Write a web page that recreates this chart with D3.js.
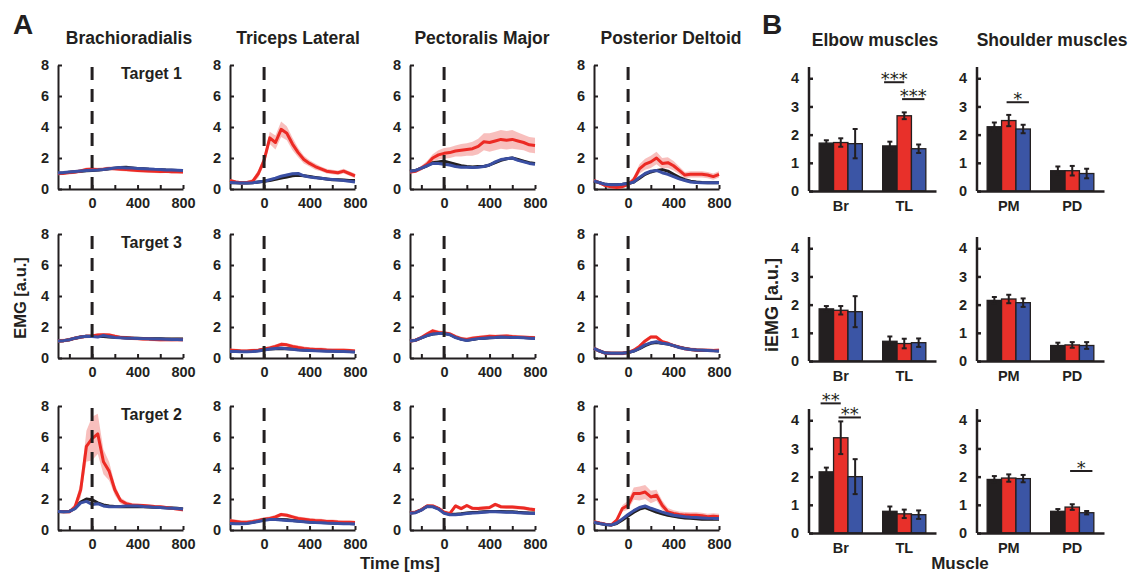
<!DOCTYPE html>
<html>
<head>
<meta charset="utf-8">
<script src="https://cdn.jsdelivr.net/npm/d3@7"></script>
<style>
  body { margin: 0; background: #fff; }
  text { font-family: "Liberation Sans", Arial, sans-serif; font-weight: bold; fill: #231f20; }
</style>
</head>
<body>
<svg id="fig" width="1138" height="575"></svg>
<script>
// ---- data: EMG time courses (panel A), sampled every 50 ms ----
const TIME = [-300, -250, -200, -150, -100, -50, 0, 50, 100, 150, 200, 250, 300, 350, 400, 450, 500, 550, 600, 650, 700, 750, 800];
const MUSCLE_NAMES = ["Brachioradialis", "Triceps Lateral", "Pectoralis Major", "Posterior Deltoid"];
const TARGET_NAMES = ["Target 1", "Target 3", "Target 2"];
const X_TICKS = [-200, 0, 200, 400, 600, 800];
const X_LABELS = [0, 400, 800];
const Y_TICKS = [0, 2, 4, 6, 8];

// Target 1
const brT1Black = [1.02, 1.04, 1.08, 1.12, 1.15, 1.18, 1.20, 1.22, 1.25, 1.30, 1.34, 1.38, 1.40, 1.36, 1.32, 1.30, 1.27, 1.26, 1.24, 1.22, 1.21, 1.19, 1.17];
const brT1Red   = [1.00, 1.02, 1.06, 1.10, 1.16, 1.26, 1.28, 1.25, 1.28, 1.33, 1.31, 1.28, 1.25, 1.22, 1.20, 1.18, 1.16, 1.15, 1.13, 1.15, 1.12, 1.11, 1.10];
const brT1Blue  = [1.03, 1.06, 1.10, 1.13, 1.16, 1.19, 1.21, 1.23, 1.26, 1.31, 1.36, 1.38, 1.36, 1.35, 1.33, 1.31, 1.29, 1.27, 1.26, 1.23, 1.22, 1.21, 1.19];

const tlT1Black = [0.40, 0.40, 0.38, 0.38, 0.40, 0.45, 0.50, 0.55, 0.62, 0.70, 0.78, 0.85, 0.88, 0.85, 0.80, 0.75, 0.70, 0.65, 0.60, 0.60, 0.58, 0.55, 0.55];
const tlT1Red   = [0.55, 0.45, 0.40, 0.42, 0.50, 1.00, 1.85, 3.30, 3.00, 3.85, 3.60, 2.90, 2.35, 1.90, 1.65, 1.45, 1.30, 1.15, 1.10, 1.05, 1.15, 1.00, 0.85];
const tlT1Blue  = [0.42, 0.40, 0.38, 0.38, 0.40, 0.45, 0.50, 0.60, 0.70, 0.82, 0.90, 0.98, 1.00, 0.85, 0.78, 0.72, 0.70, 0.65, 0.62, 0.58, 0.55, 0.50, 0.45];
const tlT1RedSE = [0.10, 0.10, 0.10, 0.10, 0.15, 0.25, 0.30, 0.40, 0.45, 0.50, 0.45, 0.40, 0.30, 0.25, 0.20, 0.20, 0.15, 0.15, 0.15, 0.15, 0.15, 0.15, 0.15];

const pmT1Black = [1.15, 1.20, 1.35, 1.50, 1.70, 1.75, 1.80, 1.70, 1.60, 1.50, 1.45, 1.42, 1.45, 1.45, 1.55, 1.70, 1.85, 1.95, 2.00, 1.90, 1.80, 1.70, 1.65];
const pmT1Red   = [1.10, 1.15, 1.35, 1.60, 2.00, 2.20, 2.30, 2.35, 2.45, 2.50, 2.55, 2.60, 2.75, 3.05, 3.00, 3.10, 3.20, 3.15, 3.20, 3.10, 3.00, 2.85, 2.80];
const pmT1Blue  = [1.15, 1.20, 1.35, 1.50, 1.65, 1.65, 1.60, 1.55, 1.45, 1.40, 1.40, 1.38, 1.40, 1.45, 1.55, 1.75, 1.90, 1.95, 2.00, 1.85, 1.75, 1.65, 1.60];
const pmT1RedSE = [0.10, 0.12, 0.15, 0.20, 0.25, 0.30, 0.35, 0.35, 0.35, 0.40, 0.40, 0.45, 0.50, 0.55, 0.60, 0.60, 0.60, 0.60, 0.60, 0.55, 0.50, 0.50, 0.50];

const pdT1Black = [0.50, 0.40, 0.30, 0.28, 0.28, 0.30, 0.35, 0.45, 0.70, 0.95, 1.10, 1.20, 1.25, 1.15, 0.95, 0.75, 0.60, 0.50, 0.45, 0.42, 0.40, 0.40, 0.40];
const pdT1Red   = [0.55, 0.40, 0.22, 0.15, 0.10, 0.15, 0.30, 0.60, 1.30, 1.60, 1.75, 2.00, 1.65, 1.70, 1.50, 1.20, 0.90, 0.95, 0.95, 0.95, 0.90, 0.80, 0.95];
const pdT1Blue  = [0.52, 0.40, 0.30, 0.28, 0.28, 0.30, 0.35, 0.45, 0.75, 1.00, 1.15, 1.20, 1.05, 0.95, 0.80, 0.65, 0.55, 0.45, 0.42, 0.40, 0.40, 0.40, 0.40];
const pdT1RedSE = [0.10, 0.10, 0.10, 0.10, 0.10, 0.10, 0.12, 0.20, 0.30, 0.35, 0.40, 0.40, 0.35, 0.35, 0.30, 0.25, 0.20, 0.20, 0.20, 0.20, 0.20, 0.20, 0.20];

// Target 3
const brT3Black = [1.10, 1.12, 1.18, 1.28, 1.36, 1.40, 1.40, 1.38, 1.38, 1.36, 1.34, 1.32, 1.30, 1.28, 1.27, 1.26, 1.25, 1.25, 1.24, 1.23, 1.23, 1.22, 1.22];
const brT3Red   = [1.10, 1.12, 1.18, 1.28, 1.35, 1.40, 1.42, 1.48, 1.50, 1.48, 1.40, 1.33, 1.30, 1.28, 1.25, 1.22, 1.22, 1.20, 1.18, 1.20, 1.18, 1.20, 1.18];
const brT3Blue  = [1.10, 1.12, 1.18, 1.28, 1.36, 1.40, 1.38, 1.35, 1.45, 1.38, 1.33, 1.30, 1.28, 1.27, 1.26, 1.25, 1.24, 1.23, 1.22, 1.21, 1.20, 1.20, 1.18];

const tlT3Black = [0.45, 0.45, 0.42, 0.42, 0.45, 0.48, 0.55, 0.58, 0.60, 0.62, 0.60, 0.58, 0.55, 0.52, 0.50, 0.48, 0.48, 0.46, 0.45, 0.45, 0.45, 0.42, 0.40];
const tlT3Red   = [0.50, 0.48, 0.45, 0.45, 0.48, 0.50, 0.58, 0.65, 0.75, 0.88, 0.85, 0.75, 0.68, 0.62, 0.58, 0.55, 0.55, 0.52, 0.50, 0.50, 0.50, 0.48, 0.45];
const tlT3Blue  = [0.42, 0.42, 0.40, 0.40, 0.42, 0.45, 0.52, 0.58, 0.62, 0.65, 0.60, 0.56, 0.52, 0.50, 0.48, 0.46, 0.45, 0.44, 0.43, 0.42, 0.42, 0.40, 0.38];

const pmT3Black = [1.10, 1.15, 1.30, 1.45, 1.55, 1.58, 1.60, 1.52, 1.35, 1.22, 1.15, 1.20, 1.25, 1.28, 1.30, 1.32, 1.35, 1.35, 1.33, 1.32, 1.32, 1.30, 1.28];
const pmT3Red   = [1.10, 1.15, 1.32, 1.55, 1.75, 1.65, 1.62, 1.55, 1.38, 1.25, 1.20, 1.28, 1.32, 1.36, 1.40, 1.38, 1.40, 1.42, 1.38, 1.36, 1.34, 1.32, 1.30];
const pmT3Blue  = [1.10, 1.15, 1.30, 1.45, 1.55, 1.58, 1.58, 1.50, 1.32, 1.20, 1.13, 1.20, 1.25, 1.28, 1.30, 1.32, 1.35, 1.34, 1.32, 1.32, 1.30, 1.28, 1.26];

const pdT3Black = [0.62, 0.45, 0.32, 0.30, 0.30, 0.30, 0.35, 0.45, 0.60, 0.80, 0.95, 1.00, 0.95, 0.90, 0.80, 0.70, 0.62, 0.55, 0.52, 0.50, 0.48, 0.48, 0.45];
const pdT3Red   = [0.62, 0.45, 0.32, 0.30, 0.30, 0.30, 0.35, 0.50, 0.75, 1.10, 1.35, 1.35, 1.05, 0.95, 0.80, 0.70, 0.60, 0.55, 0.52, 0.50, 0.50, 0.48, 0.50];
const pdT3Blue  = [0.62, 0.45, 0.32, 0.30, 0.30, 0.30, 0.35, 0.45, 0.62, 0.85, 0.98, 1.05, 0.95, 0.90, 0.80, 0.68, 0.60, 0.55, 0.52, 0.50, 0.48, 0.46, 0.45];

// Target 2
const brT2Black = [1.20, 1.18, 1.20, 1.40, 1.80, 2.00, 1.95, 1.75, 1.62, 1.55, 1.52, 1.50, 1.50, 1.50, 1.52, 1.50, 1.48, 1.46, 1.45, 1.43, 1.42, 1.40, 1.35];
const brT2Red   = [1.20, 1.18, 1.17, 1.50, 2.60, 5.40, 5.90, 6.20, 4.40, 3.80, 2.60, 1.90, 1.70, 1.62, 1.60, 1.58, 1.55, 1.52, 1.50, 1.45, 1.40, 1.35, 1.30];
const brT2Blue  = [1.20, 1.18, 1.20, 1.38, 1.75, 1.85, 1.65, 1.70, 1.55, 1.50, 1.50, 1.52, 1.55, 1.55, 1.55, 1.52, 1.50, 1.46, 1.45, 1.42, 1.40, 1.38, 1.35];
const brT2RedSE = [0.08, 0.08, 0.10, 0.20, 0.50, 1.00, 1.40, 1.30, 0.80, 0.60, 0.35, 0.20, 0.15, 0.12, 0.10, 0.10, 0.10, 0.10, 0.10, 0.10, 0.10, 0.10, 0.10];

const tlT2Black = [0.45, 0.42, 0.42, 0.45, 0.50, 0.58, 0.68, 0.70, 0.70, 0.68, 0.66, 0.62, 0.58, 0.55, 0.52, 0.50, 0.48, 0.46, 0.45, 0.43, 0.42, 0.42, 0.40];
const tlT2Red   = [0.60, 0.55, 0.50, 0.50, 0.55, 0.62, 0.70, 0.75, 0.85, 1.00, 0.95, 0.85, 0.75, 0.70, 0.65, 0.62, 0.60, 0.55, 0.55, 0.52, 0.50, 0.50, 0.48];
const tlT2Blue  = [0.42, 0.40, 0.40, 0.42, 0.48, 0.55, 0.62, 0.68, 0.68, 0.65, 0.62, 0.60, 0.56, 0.53, 0.50, 0.48, 0.47, 0.45, 0.44, 0.42, 0.40, 0.40, 0.38];

const pmT2Black = [1.10, 1.15, 1.30, 1.54, 1.52, 1.38, 1.12, 1.02, 1.02, 1.05, 1.09, 1.13, 1.15, 1.18, 1.20, 1.20, 1.19, 1.18, 1.17, 1.14, 1.12, 1.10, 1.09];
const pmT2Red   = [1.10, 1.15, 1.30, 1.55, 1.55, 1.40, 1.15, 1.05, 1.55, 1.38, 1.58, 1.40, 1.38, 1.42, 1.45, 1.65, 1.50, 1.48, 1.48, 1.45, 1.42, 1.35, 1.30];
const pmT2Blue  = [1.08, 1.12, 1.28, 1.52, 1.50, 1.35, 1.08, 0.98, 0.98, 1.02, 1.06, 1.10, 1.12, 1.15, 1.17, 1.17, 1.16, 1.15, 1.15, 1.12, 1.10, 1.08, 1.07];

const pdT2Black = [0.50, 0.42, 0.36, 0.32, 0.42, 0.65, 0.90, 1.15, 1.35, 1.45, 1.30, 1.15, 1.05, 0.95, 0.88, 0.82, 0.78, 0.75, 0.72, 0.70, 0.70, 0.70, 0.70];
const pdT2Red   = [0.53, 0.45, 0.38, 0.32, 0.64, 1.39, 1.60, 2.35, 2.35, 2.45, 2.13, 2.24, 1.60, 1.17, 1.07, 1.00, 0.96, 0.95, 0.95, 0.92, 0.85, 0.88, 0.85];
const pdT2Blue  = [0.50, 0.42, 0.36, 0.32, 0.45, 0.72, 1.00, 1.25, 1.45, 1.55, 1.40, 1.28, 1.15, 1.05, 0.95, 0.90, 0.85, 0.82, 0.80, 0.78, 0.76, 0.75, 0.75];
const pdT2RedSE = [0.08, 0.08, 0.08, 0.08, 0.12, 0.20, 0.30, 0.40, 0.45, 0.45, 0.40, 0.35, 0.30, 0.25, 0.20, 0.20, 0.20, 0.20, 0.20, 0.20, 0.20, 0.20, 0.20];

const RED_SE_DEFAULT = 0.12;
const OTHER_SE = 0.08;

// ---- data: integrated EMG (panel B), order Br, TL, PM, PD ; conditions black/red/blue ----
const BAR_MUSCLES = ["Br", "TL", "PM", "PD"];
const BAR_GROUPS = [["Br", "TL"], ["PM", "PD"]];
const BAR_GROUP_TITLES = ["Elbow muscles", "Shoulder muscles"];
const B_TICKS = [0, 1, 2, 3, 4];

const iemgT1Mean = [[1.70, 1.72, 1.68], [1.60, 2.67, 1.50], [2.28, 2.50, 2.20], [0.72, 0.72, 0.62]];
const iemgT1Err  = [[0.10, 0.15, 0.52], [0.15, 0.12, 0.15], [0.15, 0.20, 0.15], [0.15, 0.17, 0.17]];
const iemgT3Mean = [[1.85, 1.80, 1.75], [0.70, 0.62, 0.65], [2.15, 2.20, 2.07], [0.55, 0.57, 0.55]];
const iemgT3Err  = [[0.10, 0.15, 0.55], [0.17, 0.17, 0.15], [0.12, 0.15, 0.15], [0.10, 0.10, 0.12]];
const iemgT2Mean = [[2.17, 3.38, 2.00], [0.77, 0.68, 0.65], [1.90, 1.95, 1.93], [0.77, 0.92, 0.72]];
const iemgT2Err  = [[0.15, 0.58, 0.62], [0.17, 0.15, 0.15], [0.12, 0.13, 0.13], [0.08, 0.10, 0.06]];

// significance markers: muscle, pair of conditions, bar height level
const sigT1 = [
  { muscle: "TL", from: 0, to: 1, level: 3.86, label: "***" },
  { muscle: "TL", from: 1, to: 2, level: 3.26, label: "***" },
  { muscle: "PM", from: 1, to: 2, level: 3.15, label: "*" }
];
const sigT3 = [];
const sigT2 = [
  { muscle: "Br", from: 0, to: 1, level: 4.60, label: "**" },
  { muscle: "Br", from: 1, to: 2, level: 4.10, label: "**" },
  { muscle: "PD", from: 1, to: 2, level: 2.20, label: "*" }
];

// ---- styling / layout ----
const INK = "#231f20";
const LINE_COLORS = { black: "#231f20", red: "#ec2a24", blue: "#3a4fa3" };
const BAND_COLORS = { black: "#9a9a9a", red: "#f59c9a", blue: "#9ea9dc" };
const BAR_COLORS = ["#231f20", "#e8302a", "#3b55a5"];

const svg = d3.select("#fig");

// Panel A layout
const colX = [58, 230, 410, 594], plotW = 125;
const rowY = [65, 234, 406], plotH = 124;
const titleX = [129, 298, 482, 671];

const x = d3.scaleLinear().domain([-300, 800]).range([0, plotW]);
const y = d3.scaleLinear().domain([0, 8]).range([plotH, 0]);

const emgRows = [
  [[brT1Black, brT1Red, brT1Blue, null], [tlT1Black, tlT1Red, tlT1Blue, tlT1RedSE],
   [pmT1Black, pmT1Red, pmT1Blue, pmT1RedSE], [pdT1Black, pdT1Red, pdT1Blue, pdT1RedSE]],
  [[brT3Black, brT3Red, brT3Blue, null], [tlT3Black, tlT3Red, tlT3Blue, null],
   [pmT3Black, pmT3Red, pmT3Blue, null], [pdT3Black, pdT3Red, pdT3Blue, null]],
  [[brT2Black, brT2Red, brT2Blue, brT2RedSE], [tlT2Black, tlT2Red, tlT2Blue, null],
   [pmT2Black, pmT2Red, pmT2Blue, null], [pdT2Black, pdT2Red, pdT2Blue, pdT2RedSE]]
];

svg.append("text").attr("x", 13).attr("y", 34).style("font-size", "28px").text("A");
svg.append("text").attr("x", 762).attr("y", 34).style("font-size", "28px").text("B");

MUSCLE_NAMES.forEach((m, c) => {
  svg.append("text").attr("x", titleX[c]).attr("y", 44)
    .attr("text-anchor", "middle").style("font-size", "17.5px").text(m);
});

const line = vals => d3.line().x((d, i) => x(TIME[i])).y(d => y(d))(vals);
const band = (vals, se) => d3.area()
  .x((d, i) => x(TIME[i]))
  .y0((d, i) => y(d - (Array.isArray(se) ? se[i] : se)))
  .y1((d, i) => y(d + (Array.isArray(se) ? se[i] : se)))(vals);

emgRows.forEach((row, r) => {
  row.forEach(([blk, red, blu, redSE], c) => {
    const g = svg.append("g").attr("transform", `translate(${colX[c]},${rowY[r]})`);

    // axes
    const ax = g.append("g").attr("transform", `translate(0,${plotH})`)
      .call(d3.axisBottom(x).tickValues(X_TICKS).tickSizeInner(-4).tickSizeOuter(0).tickPadding(9)
        .tickFormat(d => X_LABELS.includes(d) ? d : ""));
    const ay = g.append("g")
      .call(d3.axisLeft(y).tickValues(Y_TICKS).tickSizeInner(-4).tickSizeOuter(0).tickPadding(9));
    [ax, ay].forEach(a => {
      a.selectAll("path, line").attr("stroke", INK).attr("stroke-width", 2);
      a.selectAll("text").style("font-size", "14.5px").attr("fill", INK);
    });

    // shaded error bands
    g.append("path").attr("d", band(blk, OTHER_SE)).attr("fill", BAND_COLORS.black).attr("opacity", 0.5);
    g.append("path").attr("d", band(red, redSE || RED_SE_DEFAULT)).attr("fill", BAND_COLORS.red).attr("opacity", 0.65);
    g.append("path").attr("d", band(blu, OTHER_SE)).attr("fill", BAND_COLORS.blue).attr("opacity", 0.55);

    // mean traces
    [[blk, "black"], [red, "red"], [blu, "blue"]].forEach(([vals, k]) => {
      g.append("path").attr("d", line(vals)).attr("fill", "none")
        .attr("stroke", LINE_COLORS[k]).attr("stroke-width", 3).attr("stroke-linejoin", "round");
    });

    // movement onset
    g.append("line").attr("x1", x(0)).attr("x2", x(0)).attr("y1", y(8) + 2).attr("y2", y(0))
      .attr("stroke", INK).attr("stroke-width", 3).attr("stroke-dasharray", "13,9");

    if (c === 0) {
      g.append("text").attr("x", plotW - 1).attr("y", 14).attr("text-anchor", "end")
        .style("font-size", "16px").text(TARGET_NAMES[r]);
    }
  });
});

svg.append("text").attr("x", 26).attr("y", 298).attr("text-anchor", "middle")
  .attr("transform", "rotate(-90,26,298)").style("font-size", "16.5px").text("EMG [a.u.]");
svg.append("text").attr("x", 400).attr("y", 569).attr("text-anchor", "middle")
  .style("font-size", "17px").text("Time [ms]");

// Panel B layout
const bColX = [809, 977], bW = 127;
const bZeroY = [191, 361, 533], bH = 124;
const bTitleX = [875, 1052];
const yb = d3.scaleLinear().domain([0, 4.4]).range([bH, 0]);

BAR_GROUP_TITLES.forEach((t, c) => {
  svg.append("text").attr("x", bTitleX[c]).attr("y", 46).attr("text-anchor", "middle")
    .style("font-size", "17.5px").text(t);
});

const barRows = [[iemgT1Mean, iemgT1Err, sigT1], [iemgT3Mean, iemgT3Err, sigT3], [iemgT2Mean, iemgT2Err, sigT2]];

barRows.forEach(([means, errs, sigs], r) => {
  BAR_GROUPS.forEach((muscles, c) => {
    const g = svg.append("g").attr("transform", `translate(${bColX[c]},${bZeroY[r] - bH})`);
    const xb = d3.scaleBand().domain(muscles).range([0, bW]);
    const groupW = xb.bandwidth() * 0.68;
    const inner = d3.scaleBand().domain([0, 1, 2]).range([0, groupW]);
    const off = (xb.bandwidth() - groupW) / 2;
    const cx = (m, k) => xb(m) + off + inner(k) + inner.bandwidth() / 2;

    muscles.forEach(m => {
      const mi = BAR_MUSCLES.indexOf(m);
      means[mi].forEach((v, k) => {
        g.append("rect").attr("x", xb(m) + off + inner(k)).attr("width", inner.bandwidth())
          .attr("y", yb(v)).attr("height", yb(0) - yb(v))
          .attr("fill", BAR_COLORS[k]).attr("stroke", INK).attr("stroke-width", 1.3);
        const e = errs[mi][k], xc = cx(m, k);
        g.append("line").attr("x1", xc).attr("x2", xc).attr("y1", yb(v - e)).attr("y2", yb(v + e))
          .attr("stroke", INK).attr("stroke-width", 2);
        [v - e, v + e].forEach(yy => {
          g.append("line").attr("x1", xc - 2.5).attr("x2", xc + 2.5).attr("y1", yb(yy)).attr("y2", yb(yy))
            .attr("stroke", INK).attr("stroke-width", 2);
        });
      });
    });

    sigs.filter(s => muscles.includes(s.muscle)).forEach(s => {
      const bw = inner.bandwidth();
      const x1 = cx(s.muscle, s.from) - (s.from === 0 ? 0.4 * bw : 0.15 * bw);
      const x2 = cx(s.muscle, s.to) + (s.to === 2 ? 0.4 * bw : 0);
      g.append("line").attr("x1", x1).attr("x2", x2).attr("y1", yb(s.level)).attr("y2", yb(s.level))
        .attr("stroke", INK).attr("stroke-width", 2);
      g.append("text").attr("x", (x1 + x2) / 2).attr("y", yb(s.level) + 3).attr("text-anchor", "middle")
        .style("font-family", "DejaVu Sans").style("font-weight", "normal").style("font-size", "18px")
        .attr("fill", "#8a8a8a").text(s.label);
    });

    const axb = g.append("g").attr("transform", `translate(0,${bH})`)
      .call(d3.axisBottom(xb).tickSize(0).tickPadding(10));
    const ayb = g.append("g")
      .call(d3.axisLeft(yb).tickValues(B_TICKS).tickSizeInner(-4).tickSizeOuter(0).tickPadding(10).tickFormat(d3.format("d")));
    ayb.select(".domain").attr("d", `M0,${bH}V${yb(4.4)}`);
    [axb, ayb].forEach(a => {
      a.selectAll("path, line").attr("stroke", INK).attr("stroke-width", 2.5);
      a.selectAll("text").style("font-size", "14.5px").attr("fill", INK);
    });
  });
});

svg.append("text").attr("x", 778).attr("y", 305).attr("text-anchor", "middle")
  .attr("transform", "rotate(-90,778,305)").style("font-size", "18px").text("iEMG [a.u.]");
svg.append("text").attr("x", 960).attr("y", 569).attr("text-anchor", "middle")
  .style("font-size", "17px").text("Muscle");
</script>
</body>
</html>
